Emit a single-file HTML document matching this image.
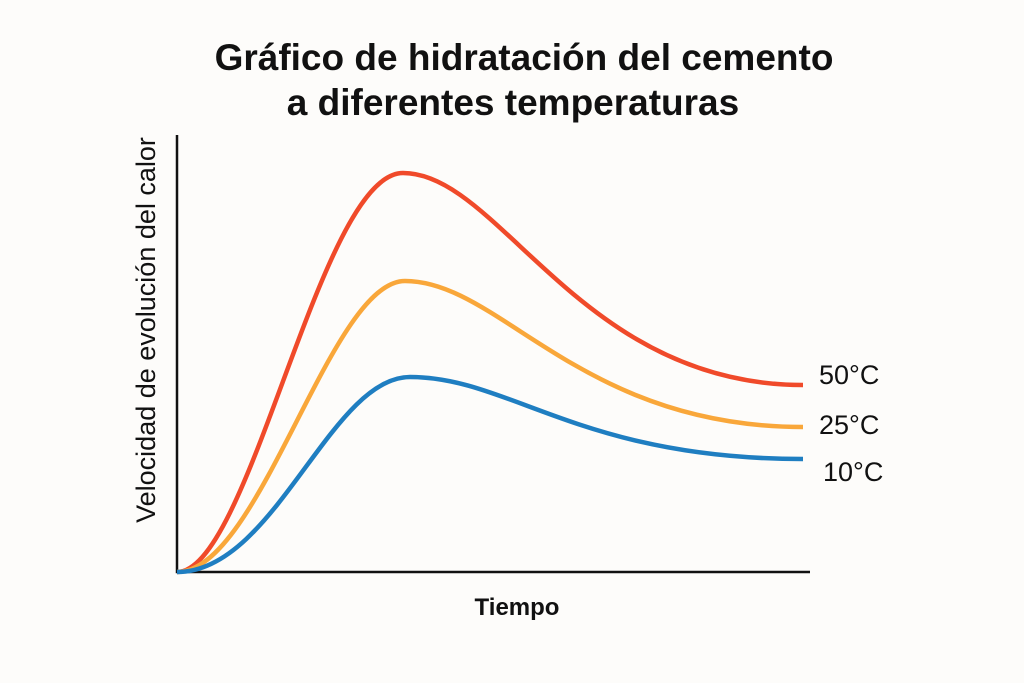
<!DOCTYPE html>
<html><head><meta charset="utf-8"><style>
html,body{margin:0;padding:0;background:#fdfcfa;}
svg{display:block;}
text{font-family:"Liberation Sans",sans-serif;fill:#111;}
</style></head><body>
<svg width="1024" height="683" viewBox="0 0 1024 683">
<rect width="1024" height="683" fill="#fdfcfa"/>
<text x="524" y="70" font-size="37" text-anchor="middle" style="font-weight:600">Gráfico de hidratación del cemento</text>
<text x="513" y="115" font-size="37" text-anchor="middle" style="font-weight:600">a diferentes temperaturas</text>
<path d="M177,135 L177,572 L810,572" fill="none" stroke="#111" stroke-width="2.5"/>
<path d="M177,572 C250,572 320,173 403,173 C500,173 580,385 803,385" fill="none" stroke="#f04a2a" stroke-width="4.5"/>
<path d="M177,572 C260,572 330,281 405,281 C500,281 580,427 803,427" fill="none" stroke="#f9a73a" stroke-width="4.5"/>
<path d="M177,572 C275,572 330,377 410,377 C510,377 580,459 803,459" fill="none" stroke="#1f7ec1" stroke-width="4.5"/>
<text x="819" y="384" font-size="27">50°C</text>
<text x="819" y="434" font-size="27">25°C</text>
<text x="823" y="481" font-size="27">10°C</text>
<text x="517" y="615" font-size="24" text-anchor="middle" style="font-weight:600">Tiempo</text>
<text transform="translate(155,330) rotate(-90)" font-size="27" text-anchor="middle">Velocidad de evolución del calor</text>
</svg>
</body></html>
